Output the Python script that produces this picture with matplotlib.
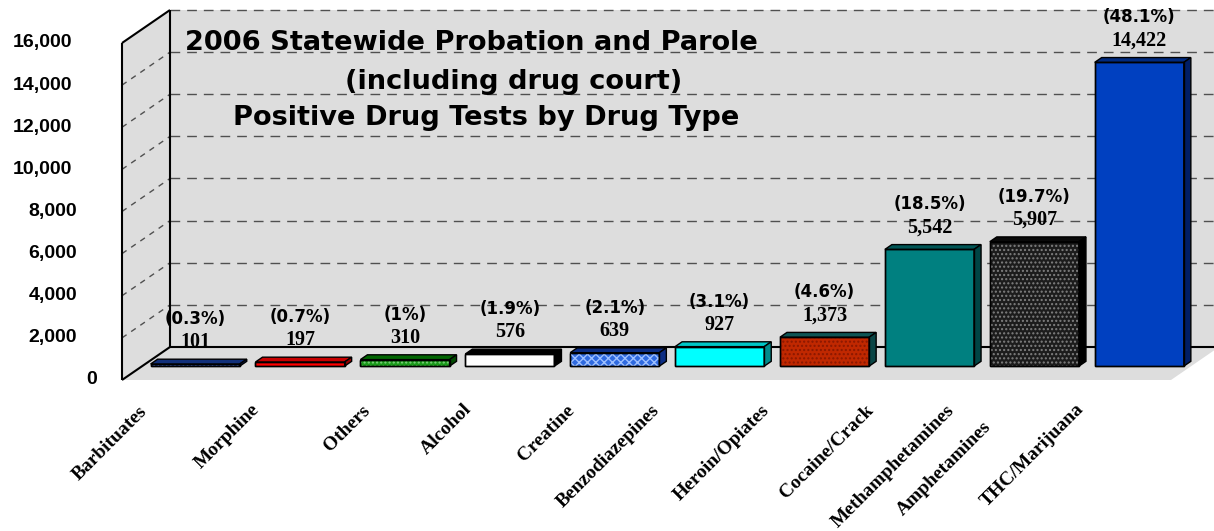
import matplotlib
matplotlib.use("Agg")
import matplotlib.pyplot as plt
from matplotlib.patches import Polygon

# Daten: positive Drogentests 2006
categories = ["Barbituates", "Morphine", "Others", "Alcohol", "Creatine",
              "Benzodiazepines", "Heroin/Opiates", "Cocaine/Crack",
              "Methamphetamines", "Amphetamines", "THC/Marijuana"]
values = [101, 197, 310, 576, 639, 927, 1373, 5542, 5907, 14422]
percents = [0.3, 0.7, 1, 1.9, 2.1, 3.1, 4.6, 18.5, 19.7, 48.1]
y_ticks = [0, 2000, 4000, 6000, 8000, 10000, 12000, 14000, 16000]
title_lines = ["2006 Statewide Probation and Parole",
               "(including drug court)",
               "Positive Drug Tests by Drug Type"]

# Farben je Balken: Vorderseite, Oberseite, Seite, Schraffur
front_col = ["#1c3f9e", "#ff0000", "#1a9a1a", "#ffffff", "#2f6ae0",
             "#00ffff", "#c02800", "#008080", "#1c1c1c", "#0040c0"]
top_col = ["#12307a", "#c80000", "#006400", "#000000", "#0c2d84",
           "#00c8c8", "#0d5555", "#005555", "#0a0a0a", "#002a80"]
side_col = ["#0d2466", "#990000", "#004a00", "#000000", "#0c2d84",
            "#008c8c", "#0a4545", "#004545", "#000000", "#001e66"]
hatch = ["....", None, "....", None, "xxxx", None, "....", None, "....", None]
hatch_col = ["#9ab0e0", None, "#7ad07a", None, "#9ec0ff", None, "#8a1800", None, "#808080", None]

# Layout in Pixeln
W, H = 1214, 531
X0, STEP = 175, 104.9          # x der ersten Kategorie (vorne), Abstand
Y0, PXV = 380, 337 / 16000     # Zeile von 0 (vorne), Pixel pro Einheit
DX, DY = 48 / STEP, 33 / PXV   # Tiefe der 3D-Box
YMAX = 16000
Z_BAR, Z_DEPTH, BW = 0.42, 0.146, 0.85

fig = plt.figure(figsize=(W / 100, H / 100), dpi=100)
ax = fig.add_axes([0, 0, 1, 1])
ax.set_xlim(-X0 / STEP, (W - X0) / STEP)
ax.set_ylim((Y0 - H) / PXV, Y0 / PXV)
ax.axis("off")


def proj(x, v, z):
    return (x + z * DX, v + z * DY)


xl = (122 - X0) / STEP
xr = (1171 - X0) / STEP
xfar = (W + 60 - X0) / STEP
wall = "#dddddd"

# Wände und Boden
ax.add_patch(Polygon([proj(xl, 0, 0), proj(xl, 0, 1), proj(xl, YMAX, 1), proj(xl, YMAX, 0)],
                     closed=True, facecolor=wall, edgecolor="none", zorder=1))
ax.add_patch(Polygon([proj(xl, 0, 1), proj(xfar, 0, 1), proj(xfar, YMAX, 1), proj(xl, YMAX, 1)],
                     closed=True, facecolor=wall, edgecolor="none", zorder=1))
ax.add_patch(Polygon([proj(xl, 0, 0), proj(xr, 0, 0), proj(xr, 0, 1), proj(xl, 0, 1)],
                     closed=True, facecolor=wall, edgecolor="none", zorder=1))

# Gitterlinien gestrichelt
for v in y_ticks[1:]:
    (a, b), (c, d) = proj(xl, v, 1), proj(xfar, v, 1)
    ax.plot([a, c], [b, d], color="#505050", lw=1, ls=(0, (7, 5)), zorder=2)
for v in y_ticks[1:-1]:
    (a, b), (c, d) = proj(xl, v, 0), proj(xl, v, 1)
    ax.plot([a, c], [b, d], color="#505050", lw=1, ls=(0, (4, 4)), zorder=2)

# Kanten
edges = [(proj(xl, 0, 0), proj(xl, YMAX, 0)),
         (proj(xl, YMAX, 0), proj(xl, YMAX, 1)),
         (proj(xl, 0, 1), proj(xl, YMAX, 1)),
         (proj(xl, 0, 0), proj(xl, 0, 1)),
         (proj(xl, 0, 1), proj(xfar, 0, 1))]
for (a, b), (c, d) in edges:
    ax.plot([a, c], [b, d], color="black", lw=1.5, zorder=2.5, solid_capstyle="butt")

# Balken
xc = [i + Z_BAR * DX for i in range(len(values))]
base = Z_BAR * DY
ax.bar(xc, values, width=BW, bottom=base, color=front_col, edgecolor="black",
       linewidth=1, zorder=3)
for i, v in enumerate(values):
    if hatch[i]:
        ax.bar(xc[i], v, width=BW, bottom=base, facecolor="none", edgecolor=hatch_col[i],
               linewidth=0, hatch=hatch[i], zorder=3.1)
    x1, x2 = xc[i] - BW / 2, xc[i] + BW / 2
    top = base + v
    ox, oy = Z_DEPTH * DX, Z_DEPTH * DY
    ax.add_patch(Polygon([(x1, top), (x2, top), (x2 + ox, top + oy), (x1 + ox, top + oy)],
                         closed=True, facecolor=top_col[i], edgecolor="black", lw=1, zorder=3.2))
    ax.add_patch(Polygon([(x2, base), (x2 + ox, base + oy), (x2 + ox, top + oy), (x2, top)],
                         closed=True, facecolor=side_col[i], edgecolor="black", lw=1, zorder=3.2))
    ax.bar(xc[i], v, width=BW, bottom=base, facecolor="none", edgecolor="black",
           linewidth=1, zorder=3.3)
    # Werte und Prozent
    ax.annotate(f"{v:,}", (xc[i], top), xytext=(0, 22 * 0.72), textcoords="offset points",
                ha="center", va="center", fontsize=14.5, fontweight="bold",
                family="Liberation Serif", zorder=5)
    ax.annotate(f"({percents[i]:g}%)", (xc[i], top), xytext=(0, 45 * 0.72),
                textcoords="offset points", ha="center", va="center", fontsize=12,
                fontweight="bold", family="DejaVu Sans", zorder=5)

# y-Achsenbeschriftung auf der vorderen Ebene
for v in y_ticks:
    lab = f"{v:,}"
    right = 72 + 5 * (6 - len(lab))
    ax.text((right - X0) / STEP, v, lab, ha="right", va="center", fontsize=14,
            fontweight="bold", family="Liberation Sans")

# Kategorien (schraeg)
label_px = [150, 263, 373, 475, 578, 663, 773, 877, 958, 995, 1087]
label_row = [403, 401, 402, 400, 402, 402, 402, 402, 402, 418, 400]
for name, px, row in zip(categories, label_px, label_row):
    ax.annotate(name, (px, H - row), xycoords="figure pixels", rotation=45,
                ha="right", va="top", fontsize=14, fontweight="bold",
                family="Liberation Serif")

# Titel
title_x = [471, 514, 486]
title_row = [43, 82, 118]
for line, px, row in zip(title_lines, title_x, title_row):
    ax.annotate(line, (px, H - row), xycoords="figure pixels", ha="center", va="center",
                fontsize=19.6, fontweight="bold", family="DejaVu Sans", zorder=6)

fig.savefig("out.png", dpi=100)
